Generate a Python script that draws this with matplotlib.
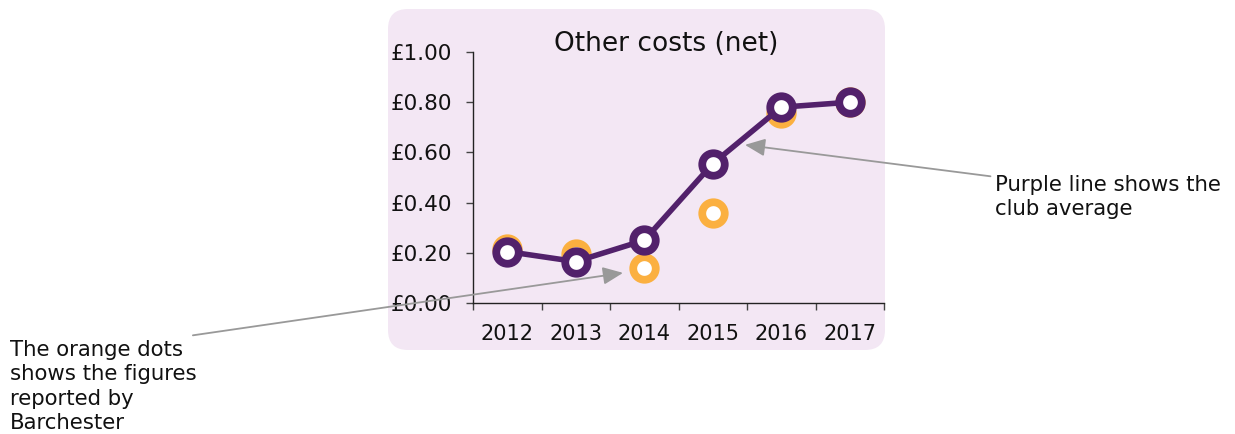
import matplotlib.pyplot as plt
from matplotlib.patches import FancyBboxPatch
from matplotlib.transforms import IdentityTransform
from matplotlib.ticker import FixedLocator, NullFormatter

years = ["2012", "2013", "2014", "2015", "2016", "2017"]
club_avg = [0.205, 0.165, 0.25, 0.555, 0.78, 0.80]
barchester = [0.215, 0.195, 0.14, 0.36, 0.755, 0.80]
y_ticks = [0.0, 0.2, 0.4, 0.6, 0.8, 1.0]
y_labels = ["£0.00", "£0.20", "£0.40", "£0.60", "£0.80", "£1.00"]

purple = "#52216B"
orange = "#FBB040"
bg = "#F3E7F4"
grey = "#999999"

plt.rcParams["font.family"] = "DejaVu Sans"

fig = plt.figure(figsize=(12.35, 4.34), dpi=100)

# rounded background panel (display pixels)
panel = FancyBboxPatch((388, 84), 497, 341, boxstyle="round,pad=0,rounding_size=20",
                       transform=IdentityTransform(), facecolor=bg, edgecolor="none",
                       zorder=-5)
fig.patches.append(panel)

ax = fig.add_axes([473 / 1235, 131 / 434, 411 / 1235, 251 / 434])
ax.set_facecolor("none")

x = list(range(len(years)))
ax.plot(x, barchester, linestyle="none", marker="o", markersize=16.2,
        markerfacecolor="white", markeredgecolor=orange, markeredgewidth=5.6, zorder=3)
ax.plot(x, club_avg, color=purple, linewidth=4, marker="o", markersize=16.2,
        markerfacecolor="white", markeredgecolor=purple, markeredgewidth=5.6, zorder=4)

ax.set_xlim(-0.5, len(years) - 0.5)
ax.set_ylim(0, 1.0)

# x: ticks at category boundaries, labels at centres
ax.xaxis.set_major_locator(FixedLocator([i - 0.5 for i in range(len(years) + 1)]))
ax.xaxis.set_major_formatter(NullFormatter())
ax.xaxis.set_minor_locator(FixedLocator(x))
ax.set_xticklabels(years, minor=True)
ax.tick_params(axis="x", which="major", length=5, width=1, color="#444444")
ax.tick_params(axis="x", which="minor", length=0, pad=15, labelsize=15, labelcolor="#111111")

ax.set_yticks(y_ticks)
ax.set_yticklabels(y_labels)
ax.tick_params(axis="y", length=5, width=1, color="#444444", pad=10, labelsize=15.5,
               labelcolor="#111111")

for s in ["top", "right"]:
    ax.spines[s].set_visible(False)
for s in ["left", "bottom"]:
    ax.spines[s].set_color("#222222")
    ax.spines[s].set_linewidth(1)

ax.text(0.47, 1.03, "Other costs (net)", transform=ax.transAxes, ha="center",
        va="center", fontsize=19, color="#111111")

# annotations
ax.annotate("The orange dots\nshows the figures\nreported by\nBarchester",
            xy=(1.69, 0.12), xycoords="data",
            xytext=(10 / 1235, 1 - 340 / 434), textcoords="figure fraction",
            ha="left", va="top", fontsize=15.3, color="#111111", linespacing=1.28,
            annotation_clip=False,
            arrowprops=dict(arrowstyle="-|>,head_length=0.8,head_width=0.35", color=grey,
                            lw=1.3, shrinkA=0, shrinkB=0,
                            relpos=(0.98, 1.05)))

ax.annotate("Purple line shows the\nclub average",
            xy=(3.47, 0.63), xycoords="data",
            xytext=(995 / 1235, 1 - 175 / 434), textcoords="figure fraction",
            ha="left", va="top", fontsize=15.3, color="#111111", linespacing=1.22,
            annotation_clip=False,
            arrowprops=dict(arrowstyle="-|>,head_length=0.8,head_width=0.35", color=grey,
                            lw=1.3, shrinkA=0, shrinkB=0,
                            relpos=(-0.02, 0.97)))

fig.savefig("out.png", dpi=100)
